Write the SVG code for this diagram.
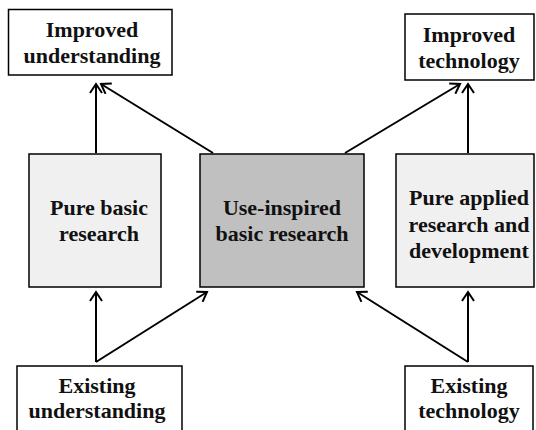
<svg xmlns="http://www.w3.org/2000/svg" width="536" height="430" viewBox="0 0 536 430">
<style>
.box{stroke:#000;stroke-width:1.5}
.w{fill:#fff}
.l{fill:#f0f0f0}
.d{fill:#c0c0c0}
text{font-family:"Liberation Serif","Times New Roman",serif;font-weight:bold;font-size:22px;text-anchor:middle;fill:#111}
.c line{stroke:#000;stroke-width:2;marker-end:url(#a)}
</style>
<defs>
<marker id="a" viewBox="-10 -7 12 14" refX="0" refY="0" markerWidth="12" markerHeight="14" markerUnits="userSpaceOnUse" orient="auto">
<path d="M-9,-6 L0,0 L-9,6" fill="none" stroke="#000" stroke-width="2"/>
</marker>
</defs>
<rect width="536" height="430" fill="#fff"/>
<g id="improved-understanding"><rect class="box w" x="8.5" y="9.5" width="163.5" height="65.5"/><text x="92" y="37">Improved</text><text x="92" y="63">understanding</text></g>
<g id="improved-technology"><rect class="box w" x="405" y="14" width="129" height="66"/><text x="469" y="42">Improved</text><text x="469" y="68">technology</text></g>
<g id="pure-basic"><rect class="box l" x="29" y="154" width="132" height="133"/><text x="99" y="215">Pure basic</text><text x="99" y="241">research</text></g>
<g id="use-inspired"><rect class="box d" x="200" y="154" width="164" height="133"/><text x="282" y="215">Use-inspired</text><text x="282" y="241">basic research</text></g>
<g id="pure-applied"><rect class="box l" x="396" y="154" width="138" height="133"/><text x="469" y="205">Pure applied</text><text x="469" y="232">research and</text><text x="469" y="258">development</text></g>
<g id="existing-understanding"><rect class="box w" x="17" y="366" width="165" height="70"/><text x="97" y="393">Existing</text><text x="97" y="418">understanding</text></g>
<g id="existing-technology"><rect class="box w" x="405" y="366" width="128" height="70"/><text x="469" y="393">Existing</text><text x="469" y="418">technology</text></g>
<g id="connectors" class="c">
<line x1="96" y1="153" x2="96" y2="84"/>
<line x1="213" y1="153" x2="101" y2="84"/>
<line x1="345" y1="153" x2="460" y2="84"/>
<line x1="468" y1="153" x2="468" y2="84"/>
<line x1="96" y1="362" x2="96" y2="292"/>
<line x1="96" y1="362" x2="207" y2="292"/>
<line x1="468" y1="362" x2="468" y2="292"/>
<line x1="468" y1="362" x2="357" y2="292"/>
</g>
</svg>
